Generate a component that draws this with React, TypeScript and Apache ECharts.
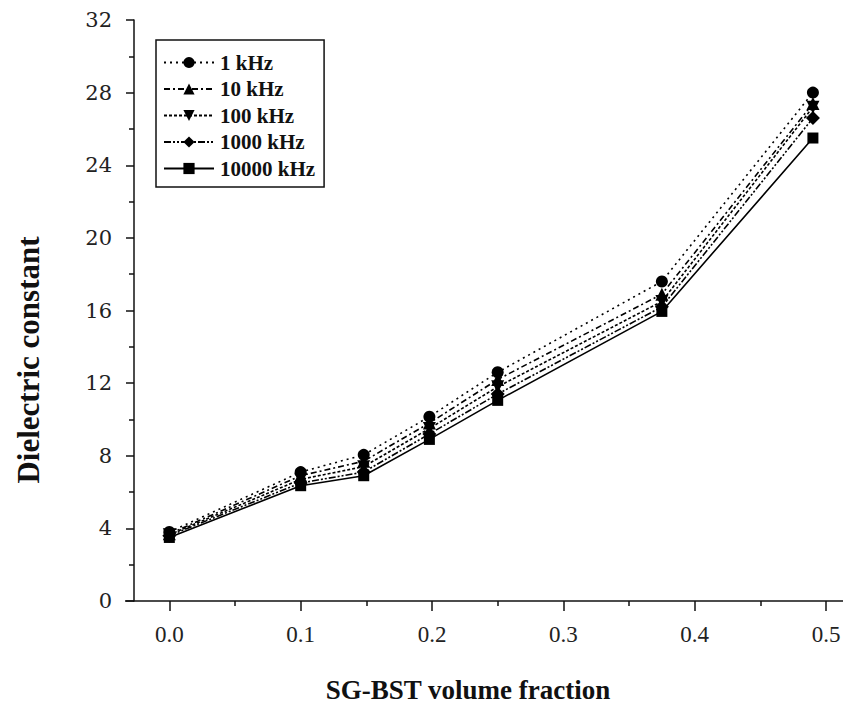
import React, { useEffect, useRef } from "react";
import * as echarts from "echarts";

const volumeFractions = [0, 0.1, 0.148, 0.198, 0.25, 0.375, 0.49];
const seriesNames = ["1 kHz", "10 kHz", "100 kHz", "1000 kHz", "10000 kHz"];
const k1 = [3.8, 7.1, 8.05, 10.15, 12.6, 17.6, 28.0];
const k10 = [3.7, 6.9, 7.7, 9.8, 12.2, 16.9, 27.4];
const k100 = [3.65, 6.7, 7.4, 9.5, 11.8, 16.5, 27.2];
const k1000 = [3.6, 6.5, 7.1, 9.2, 11.4, 16.2, 26.6];
const k10000 = [3.5, 6.35, 6.9, 8.9, 11.05, 15.95, 25.5];
const xTickLabels = [0, 0.1, 0.2, 0.3, 0.4, 0.5];
const xMinorTicks = [0.05, 0.15, 0.25, 0.35, 0.45];

const allValues = [k1, k10, k100, k1000, k10000];
const symbols = ["circle", "triangle", "triangle", "diamond", "rect"];
const symbolRotates = [0, 0, 180, 0, 0];
const symbolSizes = [12, 13, 13, 14, 11];
const dashes: any[] = [[2, 4], [6, 3, 2, 3], [3, 2], [7, 2, 2, 2, 2, 2], "solid"];

export default function App() {
  const ref = useRef<HTMLDivElement>(null);
  useEffect(() => {
    if (!ref.current) return;
    const chart = echarts.init(ref.current, null, { renderer: "svg" });
    const series = seriesNames.map((name, i) => ({
      name,
      type: "line",
      data: volumeFractions.map((x, j) => [x, allValues[i][j]]),
      symbol: symbols[i],
      symbolRotate: symbolRotates[i],
      symbolSize: symbolSizes[i],
      showAllSymbol: true,
      lineStyle: { color: "#000", width: 1.6, type: dashes[i] },
      itemStyle: { color: "#000" },
      z: 10 - i,
    }));
    chart.setOption({
      animation: false,
      backgroundColor: "#fff",
      grid: { left: 134, right: 0, top: 20, bottom: 109, containLabel: false },
      legend: {
        orient: "vertical",
        left: 156,
        top: 40,
        data: seriesNames,
        borderColor: "#111",
        borderWidth: 1.5,
        borderRadius: 0,
        padding: [12, 9, 8, 7],
        itemWidth: 50,
        itemHeight: 14,
        itemGap: 5.5,
        textStyle: {
          fontFamily: "Liberation Serif",
          fontWeight: "bold",
          fontSize: 21,
          color: "#111",
          padding: [0, 0, 0, 1],
        },
      },
      xAxis: [
        {
          type: "value",
          min: -0.0269,
          max: 0.519,
          splitLine: { show: false },
          axisLine: { onZero: false, lineStyle: { color: "#111", width: 1.5 } },
          axisTick: { customValues: xTickLabels, length: 10, lineStyle: { color: "#111", width: 1.5 } },
          axisLabel: {
            customValues: xTickLabels,
            formatter: (v: number) => v.toFixed(1),
            margin: 22,
            fontFamily: "Liberation Serif",
            fontSize: 23,
            color: "#222",
          },
        },
        {
          type: "value",
          min: -0.0269,
          max: 0.519,
          position: "bottom",
          splitLine: { show: false },
          axisLine: { show: false, onZero: false },
          axisTick: { customValues: xMinorTicks, length: 5, lineStyle: { color: "#111", width: 1.5 } },
          axisLabel: { show: false },
        },
      ],
      yAxis: {
        type: "value",
        min: 0,
        max: 32,
        interval: 4,
        splitLine: { show: false },
        axisLine: { onZero: false, lineStyle: { color: "#111", width: 1.5 } },
        axisTick: { length: 8, lineStyle: { color: "#111", width: 1.5 } },
        minorTick: { show: true, splitNumber: 2, length: 5, lineStyle: { color: "#111", width: 1.5 } },
        axisLabel: {
          margin: 22,
          fontFamily: "DejaVu Serif",
          fontSize: 21,
          color: "#222",
        },
      },
      graphic: [
        {
          type: "line",
          shape: { x1: 125, y1: 601, x2: 134, y2: 601 },
          style: { stroke: "#111", lineWidth: 1.5 },
        },
        {
          type: "text",
          x: 28,
          y: 360,
          rotation: Math.PI / 2,
          style: {
            text: "Dielectric constant",
            font: 'bold 31px "Liberation Serif"',
            fill: "#111",
            textAlign: "center",
            textVerticalAlign: "middle",
          },
        },
        {
          type: "text",
          x: 468,
          y: 690,
          style: {
            text: "SG-BST volume fraction",
            font: 'bold 27px "Liberation Serif"',
            fill: "#111",
            textAlign: "center",
            textVerticalAlign: "middle",
          },
        },
      ],
      series,
    });
    return () => chart.dispose();
  }, []);
  return <div ref={ref} style={{ width: 851, height: 710, margin: -8 }} />;
}
